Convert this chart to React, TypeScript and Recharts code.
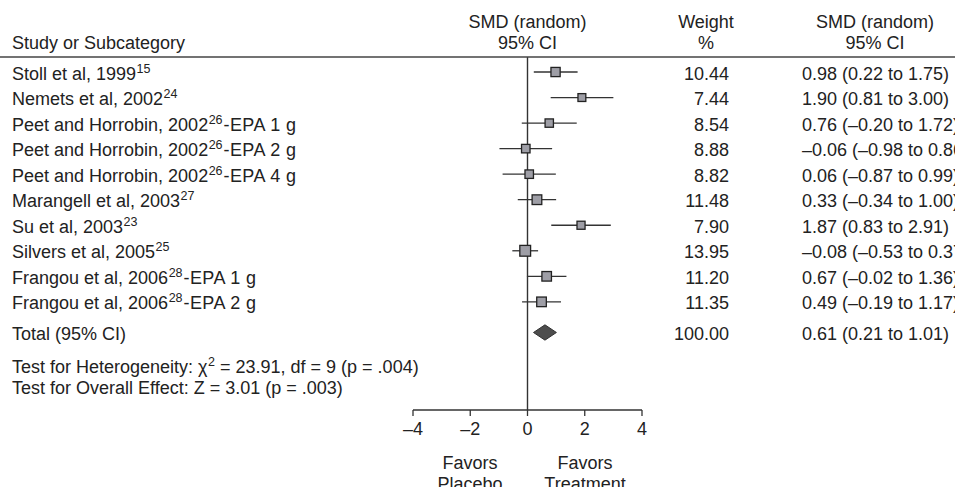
import React from 'react'
import { ComposedChart, Scatter, XAxis, YAxis, ErrorBar, ReferenceLine } from 'recharts'

// study rows, top to bottom
const studyNames = [
  'Stoll et al, 1999',
  'Nemets et al, 2002',
  'Peet and Horrobin, 2002',
  'Peet and Horrobin, 2002',
  'Peet and Horrobin, 2002',
  'Marangell et al, 2003',
  'Su et al, 2003',
  'Silvers et al, 2005',
  'Frangou et al, 2006',
  'Frangou et al, 2006',
]
const studyRefs = ['15', '24', '26', '26', '26', '27', '23', '25', '28', '28']
const studySuffix = ['', '', '-EPA 1 g', '-EPA 2 g', '-EPA 4 g', '', '', '', '-EPA 1 g', '-EPA 2 g']
const smd = [0.98, 1.9, 0.76, -0.06, 0.06, 0.33, 1.87, -0.08, 0.67, 0.49]
const ciLow = [0.22, 0.81, -0.2, -0.98, -0.87, -0.34, 0.83, -0.53, -0.02, -0.19]
const ciHigh = [1.75, 3.0, 1.72, 0.86, 0.99, 1.0, 2.91, 0.37, 1.36, 1.17]
const weights = [10.44, 7.44, 8.54, 8.88, 8.82, 11.48, 7.9, 13.95, 11.2, 11.35]

const totalLabel = 'Total (95% CI)'
const totalSmd = 0.61
const totalLow = 0.21
const totalHigh = 1.01
const totalWeight = 100.0
const totalRow = 10.2

const xTicks = [-4, -2, 0, 2, 4]

const FONT = '"Liberation Sans", Arial, Helvetica, sans-serif'
const FS = 18
const SUP = 12.5
const INK = '#222'

const fmt = (v: number) => (v < 0 ? '\u2013' : '') + Math.abs(v).toFixed(2)
const ciText = (s: number, lo: number, hi: number) => `${fmt(s)} (${fmt(lo)} to ${fmt(hi)})`

const rows = studyNames.map((name, i) => ({
  name,
  ref: studyRefs[i],
  suffix: studySuffix[i],
  x: smd[i],
  row: i,
  weight: weights[i],
  err: [smd[i] - ciLow[i], ciHigh[i] - smd[i]],
  ci: ciText(smd[i], ciLow[i], ciHigh[i]),
}))

const totalText = [
  { name: totalLabel, ref: '', suffix: '', x: totalSmd, row: totalRow, weight: totalWeight, ci: ciText(totalSmd, totalLow, totalHigh) },
]

// diamond outline for the pooled estimate
const diamondHalf = 0.3
const diamond = [
  { x: totalLow, row: totalRow },
  { x: totalSmd, row: totalRow - diamondHalf },
  { x: totalHigh, row: totalRow },
  { x: totalSmd, row: totalRow + diamondHalf },
  { x: totalLow, row: totalRow },
]

const StudySquare = (props: any) => {
  const { cx, cy, payload } = props
  const s = 4.5 + 0.45 * payload.weight
  return <rect x={cx - s / 2} y={cy - s / 2} width={s} height={s} fill="#9e9ea6" stroke="#222" strokeWidth={1.3} />
}

const RowText = (props: any) => {
  const { cy, payload } = props
  const y = cy + 7.5
  return (
    <g fontFamily={FONT} fontSize={FS} fill={INK}>
      <text x={12} y={y}>
        {payload.name}
        {payload.ref ? <tspan dx={0.5} dy={-7} fontSize={SUP}>{payload.ref}</tspan> : null}
        {payload.suffix ? <tspan dx={1} dy={7} letterSpacing={0.4}>{payload.suffix}</tspan> : null}
      </text>
      <text x={729} y={y} textAnchor="end">{payload.weight.toFixed(2)}</text>
      <text x={802} y={y}>{payload.ci}</text>
    </g>
  )
}

const Nothing = () => <g />

export default function App() {
  return (
    <div style={{ position: 'absolute', left: 0, top: 0, width: 955, height: 487, background: '#fff', overflow: 'hidden' }}>
      <ComposedChart width={955} height={487} margin={{ top: 57, right: 313, bottom: 47, left: 413 }}>
        <XAxis
          type="number"
          dataKey="x"
          domain={[-4, 4]}
          ticks={xTicks}
          tickFormatter={(v) => (v < 0 ? `\u2013${Math.abs(v)}` : `${v}`)}
          tick={{ fontSize: FS, fill: INK, fontFamily: FONT }}
          tickSize={6}
          tickMargin={6}
          height={30}
          axisLine={{ stroke: '#333', strokeWidth: 1.3 }}
          tickLine={{ stroke: '#333', strokeWidth: 1.3 }}
        />
        <YAxis type="number" dataKey="row" domain={[-0.588, 13.235]} reversed hide />
        <ReferenceLine x={0} stroke="#333" strokeWidth={1.4} />
        <Scatter data={rows} shape={StudySquare} isAnimationActive={false}>
          <ErrorBar dataKey="err" direction="x" width={0} stroke="#333" strokeWidth={1.3} />
        </Scatter>
        <Scatter
          data={diamond}
          shape={Nothing}
          line={{ fill: '#4d4d4d', stroke: '#333', strokeWidth: 1 }}
          lineType="joint"
          lineJointType="linear"
          isAnimationActive={false}
        />
        <Scatter data={rows} shape={RowText} isAnimationActive={false} />
        <Scatter data={totalText} shape={RowText} isAnimationActive={false} />
      </ComposedChart>
      <svg width={955} height={487} style={{ position: 'absolute', left: 0, top: 0, pointerEvents: 'none' }}>
        <g fontFamily={FONT} fontSize={FS} fill={INK}>
          <text x={12} y={49}>Study or Subcategory</text>
          <text x={527.5} y={28} textAnchor="middle">SMD (random)</text>
          <text x={527.5} y={49} textAnchor="middle">95% CI</text>
          <text x={706} y={28} textAnchor="middle">Weight</text>
          <text x={706} y={49} textAnchor="middle">%</text>
          <text x={875} y={28} textAnchor="middle">SMD (random)</text>
          <text x={875} y={49} textAnchor="middle">95% CI</text>
          <text x={12} y={373}>
            Test for Heterogeneity: {'\u03c7'}
            <tspan dx={0.5} dy={-7} fontSize={SUP}>2</tspan>
            <tspan dy={7}> = 23.91, df = 9 (p = .004)</tspan>
          </text>
          <text x={12} y={394}>Test for Overall Effect: Z = 3.01 (p = .003)</text>
          <text x={470} y={469} textAnchor="middle">Favors</text>
          <text x={470} y={490} textAnchor="middle">Placebo</text>
          <text x={585} y={469} textAnchor="middle">Favors</text>
          <text x={585} y={490} textAnchor="middle">Treatment</text>
        </g>
        <line x1={0} x2={955} y1={57} y2={57} stroke="#444" strokeWidth={1.6} />
      </svg>
    </div>
  )
}
